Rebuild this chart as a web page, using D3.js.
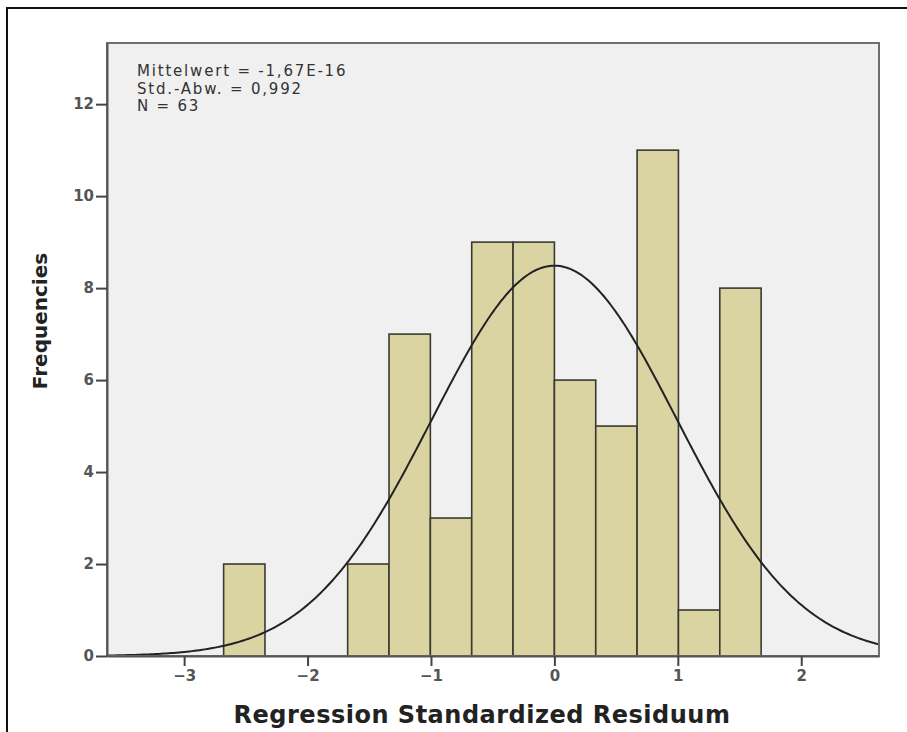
<!DOCTYPE html>
<html>
<head>
<meta charset="utf-8">
<script src="https://cdn.jsdelivr.net/npm/d3@7"></script>
<style>
  body { margin: 0; background: #fff; }
  svg { display: block; }
</style>
</head>
<body>
<svg id="chart" width="907" height="732"></svg>
<script>
// histogram of residuals
const binStart = -2.68;
const binWidth = 0.335;
const counts = [2, 0, 0, 2, 7, 3, 9, 9, 6, 5, 11, 1, 8];
const xTicks = [-3, -2, -1, 0, 1, 2];
const yTicks = [0, 2, 4, 6, 8, 10, 12];
const statLines = ["Mittelwert = -1,67E-16", "Std.-Abw. = 0,992", "N = 63"];
const mean = 0;
const sd = 0.992;
const n = 63;

const width = 907;
const height = 732;
const margin = { t: 43, r: 28, b: 76, l: 107 };

const svg = d3.select("#chart");

// outer frame (top + left only)
svg.append("line").attr("x1", 6).attr("x2", width).attr("y1", 8).attr("y2", 8)
  .attr("stroke", "#111").attr("stroke-width", 2);
svg.append("line").attr("x1", 7).attr("x2", 7).attr("y1", 8).attr("y2", height)
  .attr("stroke", "#111").attr("stroke-width", 2);

const x = d3.scaleLinear().domain([-3.625, 2.63]).range([margin.l, width - margin.r]);
const y = d3.scaleLinear().domain([0, 13.33]).range([height - margin.b, margin.t]);

const bins = counts.map((c, i) => ({
  x0: binStart + i * binWidth,
  x1: binStart + (i + 1) * binWidth,
  count: c
}));

// plot background
svg.append("rect")
  .attr("x", x.range()[0]).attr("y", y.range()[1])
  .attr("width", x.range()[1] - x.range()[0])
  .attr("height", y.range()[0] - y.range()[1])
  .attr("fill", "#f0f0f0");

const g = svg.append("g");

g.selectAll(".bar")
  .data(bins.filter((d) => d.count > 0))
  .join("rect")
  .attr("class", "bar")
  .attr("x", (d) => x(d.x0))
  .attr("y", (d) => y(d.count))
  .attr("width", (d) => x(d.x1) - x(d.x0))
  .attr("height", (d) => y(0) - y(d.count))
  .attr("fill", "#d9d4a2")
  .attr("stroke", "#3a3a30")
  .attr("stroke-width", 1.6);

// fitted normal curve
const pdf = (v) => Math.exp(-0.5 * ((v - mean) / sd) ** 2) / (sd * Math.sqrt(2 * Math.PI));
const curvePts = d3.range(0, 301).map((i) => {
  const v = x.domain()[0] + (i / 300) * (x.domain()[1] - x.domain()[0]);
  return [v, n * binWidth * pdf(v)];
});
g.append("path")
  .datum(curvePts)
  .attr("fill", "none")
  .attr("stroke", "#222")
  .attr("stroke-width", 2)
  .attr("d", d3.line().x((d) => x(d[0])).y((d) => y(d[1])));

// plot border
svg.append("rect")
  .attr("x", x.range()[0]).attr("y", y.range()[1])
  .attr("width", x.range()[1] - x.range()[0])
  .attr("height", y.range()[0] - y.range()[1])
  .attr("fill", "none")
  .attr("stroke", "#6e6e6e")
  .attr("stroke-width", 2);

// axes
const xAxis = svg.append("g")
  .attr("transform", `translate(0,${y(0)})`)
  .call(d3.axisBottom(x).tickValues(xTicks).tickSize(10).tickSizeOuter(0)
    .tickFormat((d) => (d < 0 ? "\u2212" + Math.abs(d) : d)));
xAxis.select(".domain").attr("stroke", "#555").attr("stroke-width", 2);
xAxis.selectAll(".tick line").attr("stroke", "#444").attr("stroke-width", 2);
xAxis.selectAll(".tick text")
  .attr("y", 14)
  .attr("dy", "0.71em")
  .attr("fill", "#555")
  .style("font-family", "DejaVu Sans, sans-serif")
  .style("font-size", "15px")
  .style("font-weight", "bold");

const yAxis = svg.append("g")
  .attr("transform", `translate(${x.range()[0]},0)`)
  .call(d3.axisLeft(y).tickValues(yTicks).tickSize(11).tickSizeOuter(0));
yAxis.select(".domain").attr("stroke", "#555").attr("stroke-width", 2);
yAxis.selectAll(".tick line").attr("stroke", "#444").attr("stroke-width", 2);
yAxis.selectAll(".tick text")
  .attr("x", -13)
  .attr("fill", "#555")
  .style("font-family", "DejaVu Sans, sans-serif")
  .style("font-size", "15px")
  .style("font-weight", "bold");

// stats box text
svg.append("g")
  .selectAll("text")
  .data(statLines)
  .join("text")
  .attr("x", 137)
  .attr("y", (d, i) => 76 + i * 17.5)
  .attr("fill", "#333")
  .style("font-family", "DejaVu Sans, sans-serif")
  .style("font-size", "15px")
  .style("letter-spacing", "1.8px")
  .text((d) => d);

// axis titles
svg.append("text")
  .attr("x", 482)
  .attr("y", 723)
  .attr("text-anchor", "middle")
  .attr("fill", "#222")
  .style("font-family", "DejaVu Sans, sans-serif")
  .style("font-size", "24px")
  .style("font-weight", "bold")
  .style("letter-spacing", "0.5px")
  .text("Regression Standardized Residuum");

svg.append("text")
  .attr("transform", "translate(47,321) rotate(-90)")
  .attr("text-anchor", "middle")
  .attr("fill", "#222")
  .style("font-family", "DejaVu Sans, sans-serif")
  .style("font-size", "20px")
  .style("font-weight", "bold")
  .text("Frequencies");
</script>
</body>
</html>
